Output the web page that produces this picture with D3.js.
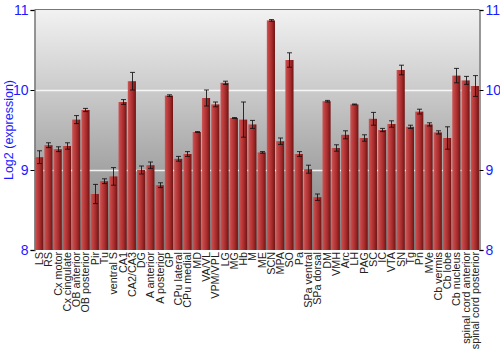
<!DOCTYPE html>
<html lang="en">
<head>
<meta charset="UTF-8">
<title>Log2 expression by region</title>
<script src="https://d3js.org/d3.v7.min.js"></script>
<style>
  body { margin: 0; background: #fff; }
  svg { font-family: "Liberation Sans", Arial, sans-serif; }
</style>
</head>
<body>
<div id="chart"></div>
<script>
const regions = ["LS", "RS", "Cx motor", "Cx cingulate", "OB anterior", "OB posterior", "Pir", "Tu",
  "ventral S", "CA1", "CA2/CA3", "DG", "A anterior", "A posterior", "GP", "CPu lateral", "CPu medial",
  "MD", "VA/VL", "VPM/VPL", "LG", "MG", "Hb", "M", "ME", "SCN", "MPA", "SO", "Pa", "SPa ventral",
  "SPa dorsal", "DM", "VMH", "Arc", "LH", "PAG", "SC", "IC", "VTA", "SN", "Tg", "Pn", "MVe",
  "Cb vermis", "Cb lobe", "Cb nucleus", "spinal cord anterior", "spinal cord posterior"];

const expression = [9.16, 9.31, 9.26, 9.30, 9.63, 9.75, 8.70, 8.86,
  8.92, 9.85, 10.11, 9.00, 9.06, 8.81, 9.93, 9.14, 9.20,
  9.475, 9.90, 9.82, 10.09, 9.65, 9.63, 9.57, 9.22, 10.87, 9.36, 10.375, 9.20, 9.01,
  8.66, 9.86, 9.275, 9.44, 9.82, 9.40, 9.64, 9.50, 9.575, 10.25, 9.54, 9.73, 9.57,
  9.47, 9.40, 10.18, 10.12, 10.05];

const stdErr = [0.08, 0.03, 0.03, 0.04, 0.05, 0.02, 0.12, 0.03,
  0.11, 0.03, 0.11, 0.05, 0.04, 0.03, 0.01, 0.03, 0.03,
  0.005, 0.10, 0.03, 0.02, 0.005, 0.22, 0.05, 0.01, 0.01, 0.04, 0.09, 0.03, 0.05,
  0.04, 0.01, 0.04, 0.05, 0.005, 0.04, 0.08, 0.02, 0.04, 0.06, 0.02, 0.03, 0.02,
  0.02, 0.14, 0.09, 0.05, 0.13];

const yTicks = [8, 9, 10, 11];

const width = 500, height = 350;
const margin = { top: 10, right: 20.5, bottom: 100, left: 34.5 };

const svg = d3.select("#chart").append("svg")
  .attr("width", width)
  .attr("height", height);

const defs = svg.append("defs");

const bg = defs.append("linearGradient")
  .attr("id", "bg").attr("x1", 0).attr("y1", 0).attr("x2", 0).attr("y2", 1);
bg.append("stop").attr("offset", "0%").attr("stop-color", "#f2f2f2");
bg.append("stop").attr("offset", "100%").attr("stop-color", "#7c7c7c");

const barGrad = defs.append("linearGradient")
  .attr("id", "bar").attr("x1", 0).attr("y1", 0).attr("x2", 1).attr("y2", 0);
barGrad.append("stop").attr("offset", "0%").attr("stop-color", "#c85a5a");
barGrad.append("stop").attr("offset", "20%").attr("stop-color", "#c44444");
barGrad.append("stop").attr("offset", "60%").attr("stop-color", "#a82c2c");
barGrad.append("stop").attr("offset", "100%").attr("stop-color", "#6e1414");

const x = d3.scaleBand()
  .domain(regions)
  .range([margin.left, width - margin.right])
  .paddingInner(0.12)
  .paddingOuter(0.06);

const y = d3.scaleLinear()
  .domain([8, 11])
  .range([height - margin.bottom, margin.top]);

// plot background
svg.append("rect")
  .attr("x", margin.left)
  .attr("y", margin.top)
  .attr("width", width - margin.left - margin.right)
  .attr("height", height - margin.top - margin.bottom)
  .attr("fill", "url(#bg)");

// grid lines
svg.append("g")
  .selectAll("line")
  .data([9, 10])
  .join("line")
  .attr("x1", margin.left)
  .attr("x2", width - margin.right)
  .attr("y1", d => y(d) + 0.5)
  .attr("y2", d => y(d) + 0.5)
  .attr("stroke", "#fff")
  .attr("stroke-opacity", 0.85)
  .attr("stroke-width", 1.5);

// bars
svg.append("g")
  .selectAll("rect")
  .data(regions)
  .join("rect")
  .attr("x", d => x(d))
  .attr("y", (d, i) => y(expression[i]))
  .attr("width", x.bandwidth())
  .attr("height", (d, i) => y(8) - y(expression[i]))
  .attr("fill", "url(#bar)");

// error bars
const err = svg.append("g")
  .attr("stroke", "#111")
  .attr("stroke-opacity", 0.85)
  .attr("stroke-width", 1)
  .selectAll("g")
  .data(regions)
  .join("g")
  .attr("transform", d => `translate(${Math.round(x(d) + x.bandwidth() / 2) + 0.5},0)`);

err.append("line")
  .attr("y1", (d, i) => y(expression[i] + stdErr[i]))
  .attr("y2", (d, i) => y(expression[i] - stdErr[i]));
err.append("line")
  .attr("x1", -2.5).attr("x2", 2.5)
  .attr("y1", (d, i) => y(expression[i] + stdErr[i]))
  .attr("y2", (d, i) => y(expression[i] + stdErr[i]));
err.append("line")
  .attr("x1", -2.5).attr("x2", 2.5)
  .attr("y1", (d, i) => y(expression[i] - stdErr[i]))
  .attr("y2", (d, i) => y(expression[i] - stdErr[i]));

// top border
svg.append("line")
  .attr("x1", margin.left).attr("x2", width - margin.right)
  .attr("y1", margin.top - 0.5).attr("y2", margin.top - 0.5)
  .attr("stroke", "#777");

// axes
const leftAxis = svg.append("g")
  .attr("transform", `translate(${margin.left},0)`)
  .call(d3.axisLeft(y).tickValues(yTicks).tickFormat(d3.format("d")).tickSize(4).tickPadding(2));
const rightAxis = svg.append("g")
  .attr("transform", `translate(${width - margin.right},0)`)
  .call(d3.axisRight(y).tickValues(yTicks).tickFormat(d3.format("d")).tickSize(4).tickPadding(2));

[leftAxis, rightAxis].forEach(a => {
  a.select(".domain").attr("stroke", "#777").attr("stroke-width", 1.5);
  a.selectAll(".tick line").attr("stroke", "#000");
  a.selectAll(".tick text")
    .attr("fill", "#1a1aff")
    .style("font-size", "14px")
    .style("font-family", "'Liberation Sans', Arial, sans-serif");
});

// category labels
svg.append("g")
  .selectAll("text")
  .data(regions)
  .join("text")
  .attr("transform", d => `translate(${x(d) + x.bandwidth() / 2 + 4},${height - margin.bottom + 2}) rotate(-90)`)
  .attr("text-anchor", "end")
  .attr("fill", "#222")
  .style("font-size", "10.8px")
  .text(d => d);

// y axis title
svg.append("text")
  .attr("transform", `translate(13,${(margin.top + height - margin.bottom) / 2}) rotate(-90)`)
  .attr("text-anchor", "middle")
  .attr("fill", "#1a1aff")
  .style("font-size", "12.5px")
  .text("Log2 (expression)");
</script>
</body>
</html>
